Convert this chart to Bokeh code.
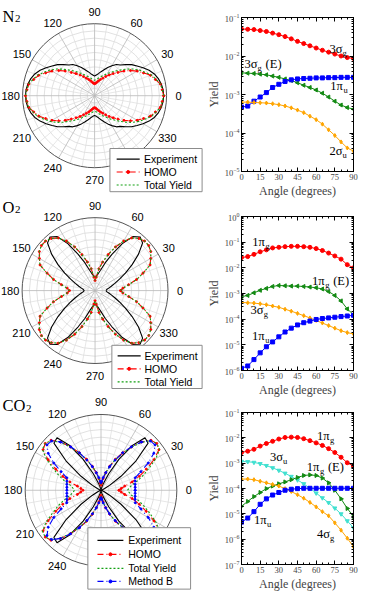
import numpy as np
from bokeh.plotting import figure
from bokeh.layouts import row, column
from bokeh.models import Range1d, LogTicker, SingleIntervalTicker, LinearAxis, LogAxis
from bokeh.core.properties import value
from bokeh.embed import file_html
from bokeh.resources import INLINE

# ---------------- data ----------------
angles = list(range(0, 91, 5))

# N2 orbital yields (right panel)
n2_3sg = [0.0503, 0.0494, 0.0486, 0.0458, 0.0433, 0.0393, 0.0358, 0.0319, 0.0279, 0.0240,
          0.0210, 0.0184, 0.0161, 0.0141, 0.0126, 0.0112, 0.0100, 0.0091, 0.0087]
n2_3sgE = [3.65e-3, 3.58e-3, 3.51e-3, 3.38e-3, 3.25e-3, 3.01e-3, 2.79e-3, 2.54e-3, 2.31e-3, 2.02e-3,
           1.74e-3, 1.52e-3, 1.31e-3, 1.08e-3, 8.6e-4, 6.7e-4, 5.33e-4, 4.58e-4, 4.17e-4]
n2_1pu = [4.7e-4, 5.0e-4, 6.7e-4, 8.6e-4, 1.12e-3, 1.52e-3, 1.84e-3, 2.18e-3, 2.40e-3, 2.54e-3,
          2.60e-3, 2.64e-3, 2.70e-3, 2.70e-3, 2.74e-3, 2.74e-3, 2.79e-3, 2.79e-3, 2.79e-3]
n2_2su = [6.34e-4, 6.34e-4, 6.2e-4, 6.1e-4, 6.0e-4, 5.75e-4, 5.44e-4, 5.04e-4, 4.5e-4, 3.94e-4,
          3.38e-4, 2.74e-4, 2.22e-4, 1.70e-4, 1.21e-4, 8.6e-5, 5.87e-5, 4.09e-5, 3.38e-5]
n2_experiment = [1.0, 0.995, 0.98, 0.955, 0.92, 0.87, 0.81, 0.75, 0.70, 0.635,
                 0.58, 0.55, 0.50, 0.45, 0.40, 0.36, 0.325, 0.30, 0.285]

# O2
o2_1pg = [0.0251, 0.0274, 0.0335, 0.0422, 0.0501, 0.0596, 0.0631, 0.0668, 0.0688, 0.0688,
          0.0668, 0.0631, 0.0562, 0.0473, 0.0376, 0.0290, 0.0218, 0.0133, 0.0100]
o2_1pgE = [7.5e-4, 8.41e-4, 1.06e-3, 1.33e-3, 1.58e-3, 1.88e-3, 2.05e-3, 2.0e-3, 1.94e-3, 1.94e-3,
           1.88e-3, 1.78e-3, 1.68e-3, 1.5e-3, 1.19e-3, 8.41e-4, 5.16e-4, 2.51e-4, 1.5e-4]
o2_3sg = [4.47e-4, 4.35e-4, 4.22e-4, 3.98e-4, 3.65e-4, 3.25e-4, 2.9e-4, 2.44e-4, 2.05e-4, 1.68e-4,
          1.37e-4, 1.12e-4, 8.9e-5, 7.08e-5, 5.62e-5, 4.47e-5, 3.55e-5, 2.99e-5, 2.66e-5]
o2_1pu = [1.22e-6, 1.5e-6, 2.66e-6, 4.87e-6, 8.41e-6, 1.3e-5, 2.05e-5, 3.16e-5, 4.47e-5, 5.96e-5,
          7.29e-5, 8.41e-5, 9.72e-5, 1.06e-4, 1.12e-4, 1.19e-4, 1.26e-4, 1.33e-4, 1.41e-4]
o2_experiment = [0.156, 0.167, 0.198, 0.24, 0.30, 0.385, 0.50, 0.646, 0.81, 0.96,
                 1.0, 0.94, 0.77, 0.57, 0.42, 0.30, 0.24, 0.21, 0.20]

# CO2
co2_1pg = [2.64e-3, 2.97e-3, 3.53e-3, 4.72e-3, 5.96e-3, 7.31e-3, 8.96e-3, 1.035e-2, 1.066e-2, 1.035e-2,
           9.23e-3, 7.74e-3, 6.32e-3, 5.01e-3, 3.74e-3, 2.64e-3, 1.71e-3, 1.04e-3, 7.57e-4]
co2_3su = [1.17e-3, 1.14e-3, 1.07e-3, 9.5e-4, 8.0e-4, 6.54e-4, 5.19e-4, 3.99e-4, 2.98e-4, 2.17e-4,
           1.53e-4, 1.02e-4, 6.58e-5, 4.25e-5, 2.75e-5, 1.68e-5, 9.9e-6, 5.25e-6, 2.85e-6]
co2_1pgE = [2.0e-5, 3.09e-5, 4.78e-5, 6.97e-5, 9.88e-5, 1.25e-4, 1.53e-4, 1.82e-4, 2.23e-4, 2.73e-4,
            3.26e-4, 3.45e-4, 3.26e-4, 2.58e-4, 1.67e-4, 8.55e-5, 3.9e-5, 1.63e-5, 7.87e-6]
co2_4sg = [2.36e-4, 2.36e-4, 2.23e-4, 1.93e-4, 1.67e-4, 1.44e-4, 1.25e-4, 9.88e-5, 7.6e-5, 5.69e-5,
           4.13e-5, 2.83e-5, 1.88e-5, 1.22e-5, 8.35e-6, 4.4e-6, 2.26e-6, 1.09e-6, 4.98e-7]
co2_1pu = [4.7e-6, 6.8e-6, 1.22e-5, 2.38e-5, 3.9e-5, 5.52e-5, 6.97e-5, 8.55e-5, 9.33e-5, 9.88e-5,
           1.02e-4, 1.02e-4, 1.02e-4, 1.02e-4, 1.02e-4, 1.02e-4, 1.02e-4, 1.02e-4, 1.02e-4]
co2_experiment = [0.0, 0.0, 0.005, 0.01, 0.02, 0.05, 0.135, 0.335, 0.625, 0.915,
                  0.94, 0.75, 0.49, 0.25, 0.104, 0.042, 0.016, 0.005, 0.0]
co2_method_b = [0.469, 0.471, 0.476, 0.485, 0.50, 0.604, 0.75, 0.885, 0.969, 0.958,
                0.865, 0.729, 0.594, 0.458, 0.344, 0.25, 0.177, 0.125, 0.104]

polar_tick_labels = ["0", "30", "60", "90", "120", "150", "180", "210", "240", "270", "300", "330"]
legend_names = ["Experiment", "HOMO", "Total Yield", "Method B"]

# ---------------- style ----------------
SERIF = "Liberation Serif"
SANS = "Liberation Sans"
RED, BLUE, GREEN, ORANGE, CYAN = "#ff0000", "#0000ff", "#138a13", "#ffa500", "#40e0d0"
PGREEN = "#12a012"

S = 0.96
LW, RW, H = 203, 155, 595

left = figure(width=LW, height=H, x_range=Range1d(2, 2 + LW / S),
              y_range=Range1d(-4 / S + H / S, -4 / S),
              x_axis_type=None, y_axis_type=None, output_backend="svg",
              toolbar_location=None, min_border=0)
left.outline_line_color = None


def norm(v):
    v = np.asarray(v, float)
    return v / v.max()


def full_curve(vals):
    a = np.asarray(angles, float)
    v = np.asarray(vals, float)
    th = np.concatenate([a, 180 - a[::-1][1:], 180 + a[1:], 360 - a[::-1][1:]])
    rr = np.concatenate([v, v[::-1][1:], v[1:], v[::-1][1:]])
    return np.deg2rad(th), rr


def polar_panel(p, cx, cy, R, curves):
    rf = 0.96
    rings = R * np.arange(0.1, 1.0, 0.1)
    p.circle(x=[cx] * len(rings), y=[cy] * len(rings), radius=rings,
             fill_color=None, line_color="#d4d4d4", line_width=0.7)
    minor = np.deg2rad([a for a in range(0, 360, 10) if a % 30])
    p.segment(x0=cx + 0.1 * R * np.cos(minor), y0=cy - 0.1 * R * np.sin(minor),
              x1=cx + R * np.cos(minor), y1=cy - R * np.sin(minor),
              line_color="#dcdcdc", line_width=0.7)
    major = np.deg2rad(np.arange(0, 360, 30))
    p.segment(x0=[cx] * len(major), y0=[cy] * len(major),
              x1=cx + R * np.cos(major), y1=cy - R * np.sin(major),
              line_color="#b8b8b8", line_width=0.8)
    p.circle(x=[cx], y=[cy], radius=[R], fill_color=None, line_color="#555555", line_width=1)
    lr = R + 12.5
    p.text(x=cx + lr * np.cos(major), y=cy - lr * np.sin(major), text=polar_tick_labels,
           text_font=value(SANS), text_font_size="11px", text_align="center",
           text_baseline="middle", text_color="black")
    for vals, color, dash, mark in curves:
        th, rr = full_curve(vals)
        xs = cx + R * rf * rr * np.cos(th)
        ys = cy - R * rf * rr * np.sin(th)
        p.line(xs, ys, line_color=color, line_width=1.1, line_dash=dash)
        if mark:
            p.scatter(xs, ys, marker="circle", size=2.0, color=color)


def legend_box(p, x0, y0, x1, y1, rows, line_x, text_x):
    p.quad(left=[x0], right=[x1], top=[y0], bottom=[y1], fill_color="white",
           line_color="#8c8c8c", line_width=1)
    for (name, color, dash, mark, y) in rows:
        p.line([line_x[0], line_x[1]], [y, y], line_color=color, line_width=1.2, line_dash=dash)
        if mark:
            p.scatter([(line_x[0] + line_x[1]) / 2], [y], marker="circle", size=3, color=color)
    p.text(x=[text_x] * len(rows), y=[r[4] for r in rows], text=[r[0] for r in rows],
           text_font=value(SANS), text_font_size="10.5px", text_baseline="middle",
           text_align="left", text_color="black")


def title(p, x, y, main, w):
    p.text(x=[x], y=[y], text=[main], text_font=value(SERIF), text_font_size="16.5px",
           text_baseline="middle", text_align="left", text_color="black")
    p.text(x=[x], y=[y], text=["2"], x_offset=w, y_offset=-1, text_font=value(SERIF),
           text_font_size="11px", text_baseline="top", text_align="left", text_color="black")


DASHDOT = "6 3 1 3"
DOT = "2 2"

# N2 polar
n2_total = np.asarray(n2_3sg) + np.asarray(n2_1pu) + np.asarray(n2_2su)
polar_panel(left, 100, 95, 75, [
    (n2_experiment, "black", "solid", False),
    (norm(n2_3sg), RED, DASHDOT, True),
    (norm(n2_total), PGREEN, DOT, False),
])
legend_box(left, 116, 150, 212, 195, [
    (legend_names[0], "black", "solid", False, 161),
    (legend_names[1], RED, DASHDOT, True, 174.5),
    (legend_names[2], PGREEN, DOT, False, 188),
], (123, 147), 151.5)
title(left, 4, 12, "N", 12.5)

# O2 polar
o2_total = np.asarray(o2_1pg) + np.asarray(o2_3sg) + np.asarray(o2_1pu)
polar_panel(left, 100.5, 298, 76, [
    (o2_experiment, "black", "solid", False),
    (norm(o2_1pg), RED, DASHDOT, True),
    (norm(o2_total), PGREEN, DOT, False),
])
legend_box(left, 118, 355, 212, 400, [
    (legend_names[0], "black", "solid", False, 366),
    (legend_names[1], RED, DASHDOT, True, 379.5),
    (legend_names[2], PGREEN, DOT, False, 393),
], (124, 148), 152)
title(left, 4, 211, "O", 12.5)

# CO2 polar
co2_total = (np.asarray(co2_1pg) + np.asarray(co2_3su) + np.asarray(co2_4sg)
             + np.asarray(co2_1pu))
polar_panel(left, 106.7, 506, 79, [
    (co2_experiment, "black", "solid", False),
    (norm(co2_1pg), RED, DASHDOT, True),
    (norm(co2_total), PGREEN, DOT, False),
    (co2_method_b, BLUE, DASHDOT, True),
])
legend_box(left, 93, 545, 200, 609, [
    (legend_names[0], "black", "solid", False, 558.3),
    (legend_names[1], RED, DASHDOT, True, 572.7),
    (legend_names[2], PGREEN, DOT, False, 587.3),
    (legend_names[3], BLUE, DASHDOT, True, 601),
], (103, 130), 135)
title(left, 4, 418, "CO", 23.5)


# ---------------- right panels ----------------
def style_axis(ax, labels=True):
    ax.axis_line_color = "black"
    ax.major_tick_in = 4
    ax.major_tick_out = 0
    ax.minor_tick_in = 2
    ax.minor_tick_out = 0
    ax.major_tick_line_color = "black"
    ax.minor_tick_line_color = "black"
    ax.major_label_text_font = SERIF
    if labels:
        ax.major_label_standoff = 2
        ax.major_label_text_font_size = "8.5px"
    else:
        # mirrored tick marks only: labels are not painted
        ax.major_label_standoff = 0
        ax.major_label_text_font_size = "1px"
        ax.major_label_text_color = None
    ax.axis_label_text_font = SERIF
    ax.axis_label_text_font_size = "12px"
    ax.axis_label_text_font_style = "normal"
    ax.axis_label_standoff = 1


def orb_label(p, x, y, main, sub, tail=""):
    fs = 12.5
    wm = fs * 1.05
    p.text(x=[x], y=[y], text=[main], text_font=value(SERIF), text_font_size=f"{fs}px",
           text_baseline="middle", text_align="left", text_color="black")
    p.text(x=[x], y=[y], text=[sub], x_offset=wm, y_offset=-1, text_font=value(SERIF),
           text_font_size="8.5px", text_baseline="top", text_align="left", text_color="black")
    if tail:
        p.text(x=[x], y=[y], text=[tail], x_offset=wm + 8, text_font=value(SERIF),
               text_font_size=f"{fs}px", text_baseline="middle", text_align="left",
               text_color="black")


def yield_panel(h, btop, bbot, ylo, yhi, series, labels):
    p = figure(width=RW, height=h, x_range=Range1d(0, 90), y_range=Range1d(ylo, yhi),
               y_axis_type="log", output_backend="svg", toolbar_location=None,
               min_border_left=26, min_border_right=5, min_border_top=btop,
               min_border_bottom=bbot)
    p.grid.visible = False
    p.outline_line_color = "black"
    p.xaxis.ticker = SingleIntervalTicker(interval=15, num_minor_ticks=3)
    p.yaxis.ticker = LogTicker(num_minor_ticks=10)
    p.xaxis.axis_label = "Angle (degrees)"
    p.yaxis.axis_label = "Yield"
    style_axis(p.xaxis[0])
    style_axis(p.yaxis[0])
    top_ax = LinearAxis(ticker=SingleIntervalTicker(interval=15, num_minor_ticks=3))
    style_axis(top_ax, labels=False)
    p.add_layout(top_ax, "above")
    right_ax = LogAxis(ticker=LogTicker(num_minor_ticks=10))
    style_axis(right_ax, labels=False)
    p.add_layout(right_ax, "right")
    for vals, color, marker, ang in series:
        p.line(angles, vals, line_color=color, line_width=1.0)
        p.scatter(angles, vals, marker=marker, size=4, color=color, angle=ang)
    for lab in labels:
        orb_label(p, *lab)
    return p


LEFT_TRI = np.pi / 2
RIGHT_TRI = -np.pi / 2

r1 = yield_panel(200, 17, 27, 1e-5, 1e-1, [
    (n2_3sg, RED, "circle", 0),
    (n2_3sgE, GREEN, "triangle", LEFT_TRI),
    (n2_1pu, BLUE, "square", 0),
    (n2_2su, ORANGE, "diamond", 0),
], [
    (70.7, 0.0152, "3σ", "g"),
    (2.4, 6.1e-3, "3σ", "g", "(E)"),
    (71.4, 1.65e-3, "1π", "u"),
    (70.7, 3.43e-5, "2σ", "u"),
])

r2 = yield_panel(200, 16, 30, 1e-6, 1e0, [
    (o2_1pg, RED, "circle", 0),
    (o2_1pgE, GREEN, "triangle", LEFT_TRI),
    (o2_3sg, ORANGE, "diamond", 0),
    (o2_1pu, BLUE, "square", 0),
], [
    (8.7, 0.106, "1π", "g"),
    (56.7, 3.18e-3, "1π", "g", "(E)"),
    (7.3, 2.19e-4, "3σ", "g"),
    (8.5, 2.19e-5, "1π", "u"),
])

r3 = yield_panel(195, 12, 31, 1e-7, 1e-1, [
    (co2_1pg, RED, "circle", 0),
    (co2_3su, CYAN, "inverted_triangle", 0),
    (co2_1pgE, GREEN, "triangle", RIGHT_TRI),
    (co2_4sg, ORANGE, "diamond", 0),
    (co2_1pu, BLUE, "square", 0),
], [
    (60.6, 1.13e-2, "1π", "g"),
    (22.9, 1.7e-3, "3σ", "u"),
    (52.5, 7.1e-4, "1π", "g", "(E)"),
    (10.0, 5.8e-6, "1π", "u"),
    (60.6, 1.57e-6, "4σ", "g"),
])

layout = row(left, column(r1, r2, r3))
open("out.html", "w").write(file_html(layout, INLINE))
